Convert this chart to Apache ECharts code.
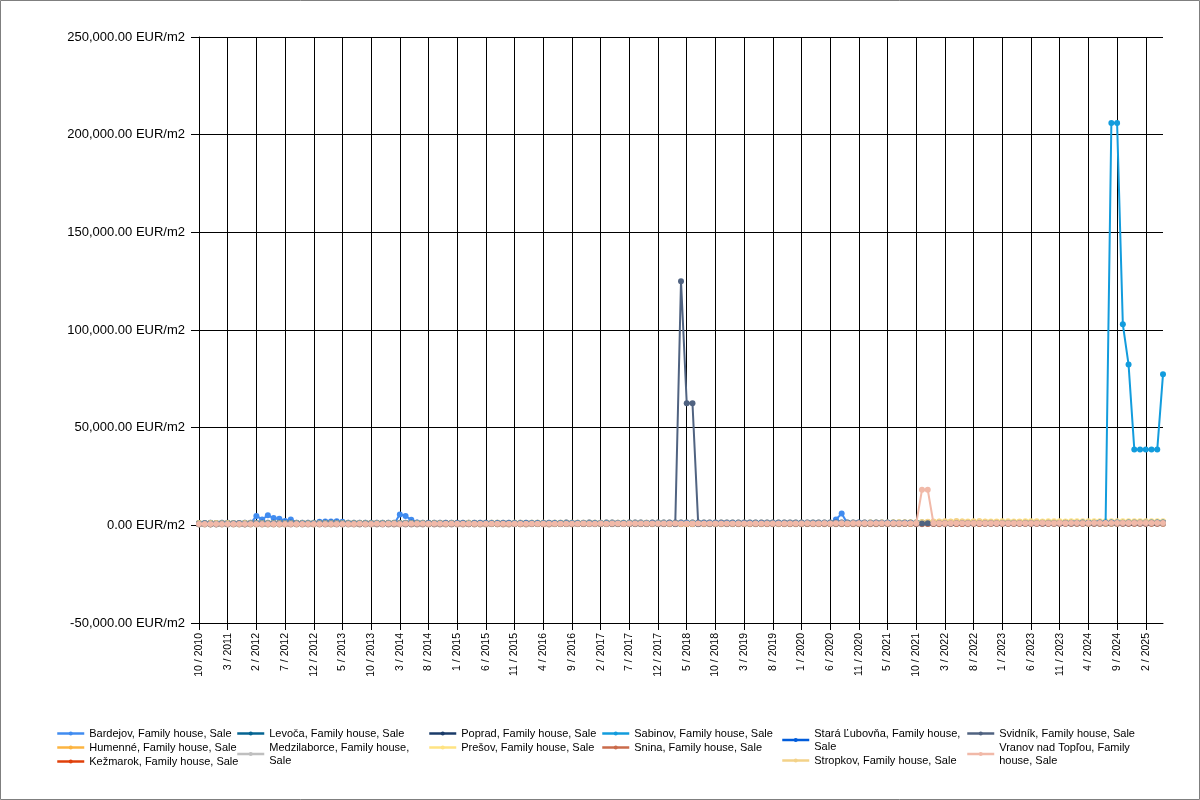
<!DOCTYPE html>
<html>
<head>
<meta charset="utf-8">
<script src="https://cdn.jsdelivr.net/npm/echarts@6/dist/echarts.min.js"></script>
<style>
html,body{margin:0;padding:0;background:#fff;}
#chart{width:1200px;height:800px;}
</style>
</head>
<body>
<div id="chart"></div>
<script>
const categories = [
'10 / 2010','11 / 2010','12 / 2010',
'1 / 2011','2 / 2011','3 / 2011','4 / 2011','6 / 2011','9 / 2011','12 / 2011',
'2 / 2012','3 / 2012','4 / 2012','5 / 2012','6 / 2012','7 / 2012','8 / 2012','9 / 2012','10 / 2012','11 / 2012','12 / 2012',
'1 / 2013','2 / 2013','3 / 2013','4 / 2013','5 / 2013','6 / 2013','7 / 2013','8 / 2013','9 / 2013','10 / 2013','11 / 2013','12 / 2013',
'1 / 2014','2 / 2014','3 / 2014','4 / 2014','5 / 2014','6 / 2014','7 / 2014','8 / 2014','9 / 2014','10 / 2014','11 / 2014','12 / 2014',
'1 / 2015','2 / 2015','3 / 2015','4 / 2015','5 / 2015','6 / 2015','7 / 2015','8 / 2015','9 / 2015','10 / 2015','11 / 2015','12 / 2015',
'1 / 2016','2 / 2016','3 / 2016','4 / 2016','5 / 2016','6 / 2016','7 / 2016','8 / 2016','9 / 2016','10 / 2016','11 / 2016','12 / 2016',
'1 / 2017','2 / 2017','3 / 2017','4 / 2017','5 / 2017','6 / 2017','7 / 2017','8 / 2017','9 / 2017','10 / 2017','11 / 2017','12 / 2017',
'1 / 2018','2 / 2018','3 / 2018','4 / 2018','5 / 2018','6 / 2018','7 / 2018','8 / 2018','9 / 2018','10 / 2018','11 / 2018','12 / 2018',
'1 / 2019','2 / 2019','3 / 2019','4 / 2019','5 / 2019','6 / 2019','7 / 2019','8 / 2019','9 / 2019','10 / 2019','11 / 2019','12 / 2019',
'1 / 2020','2 / 2020','3 / 2020','4 / 2020','5 / 2020','6 / 2020','7 / 2020','8 / 2020','9 / 2020','10 / 2020','11 / 2020','12 / 2020',
'1 / 2021','3 / 2021','4 / 2021','5 / 2021','6 / 2021','7 / 2021','8 / 2021','9 / 2021','10 / 2021','11 / 2021','12 / 2021',
'1 / 2022','2 / 2022','3 / 2022','4 / 2022','5 / 2022','6 / 2022','7 / 2022','8 / 2022','9 / 2022','10 / 2022','11 / 2022','12 / 2022',
'1 / 2023','2 / 2023','3 / 2023','4 / 2023','5 / 2023','6 / 2023','7 / 2023','8 / 2023','9 / 2023','10 / 2023','11 / 2023','12 / 2023',
'1 / 2024','2 / 2024','3 / 2024','4 / 2024','5 / 2024','6 / 2024','7 / 2024','8 / 2024','9 / 2024','10 / 2024','11 / 2024','12 / 2024',
'1 / 2025','2 / 2025','3 / 2025','4 / 2025','5 / 2025'
];

const yTicks = [-50000, 0, 50000, 100000, 150000, 200000, 250000];

const bardejov = [
780,800,760,790,820,800,770,810,790,1000,
4800,3000,5100,3700,3400,2200,3000,1200,900,850,880,
1800,2000,1900,2100,1800,900,820,790,760,800,780,770,
790,810,5500,4800,2800,1500,1000,820,800,780,760,790,
800,780,770,760,790,810,800,780,770,790,800,810,
790,780,800,820,810,790,800,780,770,790,810,820,
800,790,810,820,830,810,800,820,840,830,820,840,
850,830,840,860,850,840,860,870,850,860,880,870,
880,890,870,900,910,890,900,920,910,930,920,940,
950,940,960,950,970,960,3000,6000,1000,980,990,1000,
1010,1020,1000,1030,1040,1050,1030,1060,1070,1080,1090,
1100,1110,1120,1100,1130,1150,1140,1160,1170,1150,1180,1190,
1200,1210,1190,1220,1230,1210,1240,1250,1230,1260,1270,1250,
1280,1290,1270,1300,1310,1290,1320,1330,1310,1340,1350,1330,
1360,1370,1350,1380,1390];

const humenne = [
620,640,610,630,650,640,620,660,640,630,
650,640,660,670,650,640,660,680,670,650,660,
670,680,660,650,670,690,680,660,670,680,690,670,
660,680,690,700,680,670,690,700,710,690,680,700,
710,700,690,710,720,700,690,710,720,730,710,700,
720,730,710,720,740,730,720,740,750,730,740,760,
750,740,760,770,750,760,780,770,760,780,790,770,
780,800,790,780,800,810,790,800,820,810,800,820,
830,810,820,840,830,820,840,850,830,840,860,850,
860,870,850,860,880,870,860,880,890,870,880,900,
910,890,900,920,930,910,920,940,950,930,940,
960,970,950,960,980,990,970,980,1000,1010,990,1000,
1020,1030,1010,1020,1040,1050,1030,1040,1060,1070,1050,1060,
1080,1090,1070,1080,1100,1110,1090,1100,1120,1130,1110,1120,
1140,1150,1130,1140,1160];

const kezmarok = [
920,900,940,910,930,950,920,900,940,930,
950,940,960,930,950,970,960,940,950,970,980,
960,970,990,980,960,970,990,1000,980,990,1010,1000,
990,1010,1020,1000,1010,1030,1020,1000,1010,1030,1040,1020,
1030,1050,1040,1020,1030,1050,1060,1040,1050,1070,1060,1040,
1050,1070,1080,1060,1070,1090,1080,1060,1070,1090,1100,1080,
1090,1110,1100,1080,1090,1110,1120,1100,1110,1130,1120,1100,
1110,1130,1140,1120,1130,1150,1140,1120,1130,1150,1160,1140,
1150,1170,1160,1140,1150,1170,1180,1160,1170,1190,1180,1160,
1170,1190,1200,1180,1190,1210,1200,1180,1190,1210,1220,1200,
1210,1230,1220,1200,1210,1230,1240,1220,1230,1250,1240,
1220,1230,1250,1260,1240,1250,1270,1260,1240,1250,1270,1280,
1260,1270,1290,1280,1260,1270,1290,1300,1280,1290,1310,1300,
1280,1290,1310,1320,1300,1310,1330,1320,1300,1310,1330,1340,
1320,1330,1350,1340,1320];

const levoca = [
720,700,740,710,730,720,700,740,730,710,
730,750,740,720,730,750,760,740,730,750,760,
740,750,770,760,740,750,770,780,760,750,770,780,
760,770,790,780,760,770,790,800,780,770,790,800,
780,790,810,800,780,790,810,820,800,790,810,820,
800,810,830,820,800,810,830,840,820,810,830,840,
820,830,850,840,820,830,850,860,840,830,850,860,
840,850,870,860,840,850,870,880,860,850,870,880,
860,870,890,880,860,870,890,900,880,870,890,900,
880,890,910,900,880,890,910,920,900,890,910,920,
900,910,930,920,900,910,930,940,920,910,930,
950,930,920,940,960,950,930,940,960,980,960,950,
970,990,980,960,970,990,1010,990,980,1000,1020,1010,
990,1010,1030,1020,1000,1020,1040,1030,1010,1030,1050,1040,
1200,1280,1300,1290,1310];

const medzilaborce = [
420,410,430,400,420,440,410,420,430,410,
420,440,430,410,420,440,450,430,420,440,450,
430,440,460,450,430,440,460,470,450,440,460,470,
450,460,480,470,450,460,480,490,470,460,480,490,
470,480,500,490,470,480,500,510,490,480,500,510,
490,500,520,510,490,500,520,530,510,500,520,530,
510,520,540,530,510,520,540,550,530,520,540,550,
530,540,560,550,530,540,560,570,550,540,560,570,
550,560,580,570,550,560,580,590,570,560,580,590,
570,580,600,590,570,580,600,610,590,580,600,610,
590,600,620,610,590,600,620,630,610,600,620,
630,610,600,620,640,630,610,620,640,650,630,620,
640,660,650,630,640,660,670,650,640,660,670,650,
660,680,670,650,660,680,690,670,660,680,690,670,
680,700,690,670,680];

const poprad = [
1250,1230,1270,1240,1260,1280,1250,1230,1270,1260,
1280,1270,1290,1260,1280,1300,1290,1270,1280,1300,1310,
1290,1300,1320,1310,1290,1300,1320,1330,1310,1300,1320,1330,
1310,1320,1340,1330,1310,1320,1340,1350,1330,1320,1340,1350,
1330,1340,1360,1350,1330,1340,1360,1370,1350,1340,1360,1370,
1350,1360,1380,1370,1350,1360,1380,1390,1370,1360,1380,1390,
1370,1380,1400,1390,1370,1380,1400,1410,1390,1380,1400,1410,
1390,1400,1420,1410,1390,1400,1420,1430,1410,1400,1420,1430,
1410,1420,1440,1430,1410,1420,1440,1450,1430,1420,1440,1450,
1430,1440,1460,1450,1430,1440,1460,1470,1450,1440,1460,1470,
1450,1460,1480,1470,1450,1460,1480,1490,1470,1460,1480,
1500,1520,1510,1490,1500,1520,1530,1510,1500,1520,1530,1510,
1520,1540,1550,1530,1520,1540,1550,1530,1540,1560,1570,1550,
1560,1580,1590,1570,1560,1580,1590,1570,1580,1600,1610,1590,
1600,1620,1630,1610,1620];

const presov = [
1150,1130,1170,1140,1160,1180,1150,1130,1170,1160,
1180,1170,1190,1160,1180,1200,1190,1170,1180,1200,1210,
1190,1200,1220,1210,1190,1200,1220,1230,1210,1200,1220,1230,
1210,1220,1240,1230,1210,1220,1240,1250,1230,1220,1240,1250,
1230,1240,1260,1250,1230,1240,1260,1270,1250,1240,1260,1270,
1250,1260,1280,1270,1250,1260,1280,1290,1270,1260,1280,1290,
1270,1280,1300,1290,1270,1280,1300,1310,1290,1280,1300,1310,
1290,1300,1320,1310,1290,1300,1320,1330,1310,1300,1320,1330,
1310,1320,1340,1330,1310,1320,1340,1350,1330,1320,1340,1350,
1330,1340,1360,1350,1330,1340,1360,1370,1350,1340,1360,1370,
1400,1450,1500,1480,1520,1550,1580,1600,1620,1650,1700,
1750,1800,1850,1900,1950,2000,1980,2020,2050,2000,1980,2010,
2030,2050,2020,2000,2040,2060,2030,2010,2050,2070,2040,2020,
2060,2080,2050,2030,2070,2090,2060,2040,2080,2100,2070,2050,
2090,2110,2080,2060,2100];

const sabinov = [
700,720,690,710,730,700,720,740,710,730,
750,720,740,760,730,750,770,740,760,780,750,
770,790,760,780,800,770,790,810,780,800,820,790,
810,830,800,820,840,810,830,850,820,840,860,830,
850,870,840,860,880,850,870,890,860,880,900,870,
890,910,880,900,920,890,910,930,900,920,940,910,
930,950,920,940,960,930,950,970,940,960,980,950,
970,990,960,980,1000,970,990,1010,980,1000,1020,990,
1010,1030,1000,1020,1040,1010,1030,1050,1020,1040,1060,1030,
1050,1070,1040,1060,1080,1050,1070,1090,1060,1080,1100,1070,
1090,1110,1080,1100,1120,1090,1110,1130,1100,1120,1140,
1110,1130,1150,1120,1140,1160,1130,1150,1170,1140,1160,1180,
1150,1170,1190,1160,1180,1200,1170,1190,1210,1180,1200,1220,
1190,1210,1230,1200,1220,1240,1500,206000,206000,102900,82300,38800,
38800,38800,38800,38800,77300];

const snina = [
520,510,530,500,520,540,510,520,530,510,
530,540,520,530,550,540,520,530,550,560,540,
550,570,560,540,550,570,580,560,550,570,580,560,
570,590,580,560,570,590,600,580,570,590,600,580,
590,610,600,580,590,610,620,600,590,610,620,600,
610,630,620,600,610,630,640,620,610,630,640,620,
630,650,640,620,630,650,660,640,630,650,660,640,
650,670,660,640,650,670,680,660,650,670,680,660,
670,690,680,660,670,690,700,680,670,690,700,680,
690,710,700,680,690,710,720,700,690,710,720,700,
710,730,720,700,710,730,740,720,710,730,740,
720,730,750,760,740,730,750,760,740,750,770,780,
760,750,770,780,760,770,790,800,780,770,790,800,
780,790,810,820,800,790,810,820,800,810,830,840,
820,810,830,840,820];

const staraLubovna = [
860,880,850,870,890,860,880,900,870,890,
910,880,900,920,890,910,930,900,920,940,910,
930,950,920,940,960,930,950,970,940,960,980,950,
970,990,960,980,1000,970,990,1010,980,1000,1020,990,
1010,1030,1000,1020,1040,1010,1030,1050,1020,1040,1060,1030,
1050,1070,1040,1060,1080,1050,1070,1090,1060,1080,1100,1070,
1090,1110,1080,1100,1120,1090,1110,1130,1100,1120,1140,1110,
1130,1150,1120,1140,1160,1130,1150,1170,1140,1160,1180,1150,
1170,1190,1160,1180,1200,1170,1190,1210,1180,1200,1220,1190,
1210,1230,1200,1220,1240,1210,1230,1250,1220,1240,1260,1230,
1250,1270,1240,1260,1280,1250,1270,1290,1260,1280,1300,
1270,1290,1310,1280,1300,1320,1290,1310,1330,1300,1320,1340,
1310,1330,1350,1320,1340,1360,1330,1350,1370,1340,1360,1380,
1350,1370,1390,1360,1380,1400,1370,1390,1410,1380,1400,1420,
1390,1410,1430,1400,1420];

const stropkov = [
550,570,540,560,580,550,570,590,560,580,
600,570,590,610,580,600,620,590,610,630,600,
620,640,610,630,650,620,640,660,630,650,670,640,
660,680,650,670,690,660,680,700,670,690,710,680,
700,720,690,710,730,700,720,740,710,730,750,720,
740,760,730,750,770,740,760,780,750,770,790,760,
780,800,770,790,810,780,800,820,790,810,830,800,
820,840,810,830,850,820,840,860,830,850,870,840,
860,880,850,870,890,860,880,900,870,890,910,880,
900,920,890,910,930,900,920,940,910,930,950,920,
940,960,930,950,970,940,960,980,1200,1500,1800,
2000,1900,2100,1800,2200,2000,1700,1900,2100,1800,1600,1700,
1500,1600,1400,1700,1500,1600,1800,1500,1400,1600,1500,1300,
1200,1100,1300,1000,1200,1100,1000,900,1100,1200,1300,1400,
1500,1400,1300,1200,1100];

const svidnik = [
600,620,590,610,630,600,620,640,610,630,
650,620,640,660,630,650,670,640,660,680,650,
670,690,660,680,700,670,690,710,680,700,720,690,
710,730,700,720,740,710,730,750,720,740,760,730,
750,770,740,760,780,750,770,790,760,780,800,770,
790,810,780,800,820,790,810,830,800,820,840,810,
830,850,820,840,860,830,850,870,840,860,880,850,
870,890,700,125000,62500,62500,700,880,860,880,900,870,
890,910,880,900,920,890,910,930,900,920,940,910,
930,950,920,940,960,930,950,970,940,960,980,950,
970,990,960,980,1000,970,990,1010,980,1000,1020,
990,1010,1030,1000,1020,1040,1010,1030,1050,1020,1040,1060,
1030,1050,1070,1040,1060,1080,1050,1070,1090,1060,1080,1100,
1070,1090,1110,1080,1100,1120,1090,1110,1130,1100,1120,1140,
1110,1130,1150,1120,1140];

const vranov = [
640,660,630,650,670,640,660,680,650,670,
690,660,680,700,670,690,710,680,700,720,690,
710,730,700,720,740,710,730,750,720,740,760,730,
750,770,740,760,780,750,770,790,760,780,800,770,
790,810,780,800,820,790,810,830,800,820,840,810,
830,850,820,840,860,830,850,870,840,860,880,850,
870,890,860,880,900,870,890,910,880,900,920,890,
910,930,900,920,940,910,930,950,920,940,960,930,
950,970,940,960,980,950,970,990,960,980,1000,970,
990,1010,980,1000,1020,990,1010,1030,1000,1020,1040,1010,
1030,1050,1020,1040,1060,1030,1050,1070,1040,18200,18200,
1060,1080,1050,1070,1090,1060,1080,1100,1070,1090,1110,1080,
1100,1120,1090,1110,1130,1100,1120,1140,1110,1130,1150,1120,
1140,1160,1130,1150,1170,1140,1160,1180,1150,1170,1190,1160,
1180,1200,1170,1190,1210];

const seriesNames = [
'Bardejov, Family house, Sale','Humenné, Family house, Sale','Kežmarok, Family house, Sale',
'Levoča, Family house, Sale','Medzilaborce, Family house, Sale','Poprad, Family house, Sale',
'Prešov, Family house, Sale','Sabinov, Family house, Sale','Snina, Family house, Sale',
'Stará Ľubovňa, Family house, Sale','Stropkov, Family house, Sale','Svidník, Family house, Sale',
'Vranov nad Topľou, Family house, Sale'];
const seriesData = [bardejov, humenne, kezmarok, levoca, medzilaborce, poprad, presov, sabinov, snina, staraLubovna, stropkov, svidnik, vranov];
const colors = ['#418CF0','#FCB441','#E0400A','#056492','#BFBFBF','#1A3B69','#FFE382','#129CDD','#CA6B4B','#005CDB','#F3D288','#506381','#F1B9A8'];

const legendLabels = {
  'Medzilaborce, Family house, Sale': 'Medzilaborce, Family house,\nSale',
  'Stará Ľubovňa, Family house, Sale': 'Stará Ľubovňa, Family house,\nSale',
  'Vranov nad Topľou, Family house, Sale': 'Vranov nad Topľou, Family\nhouse, Sale'
};

function fmt(v) {
  const neg = v < 0;
  const s = Math.abs(v).toFixed(2);
  const parts = s.split('.');
  parts[0] = parts[0].replace(/\B(?=(\d{3})+(?!\d))/g, ',');
  return (neg ? '-' : '') + parts.join('.') + ' EUR/m2';
}

const FONT = 'Liberation Sans, Arial, sans-serif';
const legendCols = [
  {left: 56, items: [0, 1, 2]},
  {left: 236, items: [3, 4]},
  {left: 428, items: [5, 6]},
  {left: 601, items: [7, 8]},
  {left: 781, items: [9, 10]},
  {left: 966, items: [11, 12]}
];

const chart = echarts.init(document.getElementById('chart'), null, {renderer: 'canvas'});
chart.setOption({
  animation: false,
  backgroundColor: '#ffffff',
  color: colors,
  textStyle: {fontFamily: FONT},
  graphic: [{
    type: 'rect', silent: true, z: 100,
    shape: {x: 0.5, y: 0.5, width: 1199, height: 799},
    style: {fill: 'none', stroke: '#7f7f7f', lineWidth: 1}
  }],
  grid: {left: 199, right: 37, top: 37, bottom: 177, containLabel: false},
  legend: legendCols.map(c => ({
    orient: 'vertical',
    left: c.left,
    top: 727,
    padding: 0,
    itemGap: 1,
    itemWidth: 27,
    itemHeight: 5,
    selectedMode: false,
    lineStyle: {width: 2.5},
    data: c.items.map(i => seriesNames[i]),
    formatter: n => legendLabels[n] || n,
    textStyle: {fontFamily: FONT, fontSize: 11, color: '#000', lineHeight: 13}
  })),
  xAxis: {
    type: 'category',
    data: categories,
    boundaryGap: false,
    axisLine: {onZero: false, lineStyle: {color: '#000', width: 1}},
    axisTick: {show: true, interval: 4, length: 7, lineStyle: {color: '#000'}},
    axisLabel: {interval: 4, rotate: 90, fontSize: 10.5, color: '#000', margin: 10, fontFamily: FONT},
    splitLine: {show: true, interval: 4, lineStyle: {color: '#000', width: 1}}
  },
  yAxis: {
    type: 'value',
    min: yTicks[0],
    max: yTicks[yTicks.length - 1],
    interval: 50000,
    axisLine: {show: true, lineStyle: {color: '#000', width: 1}},
    axisTick: {show: true, length: 8, lineStyle: {color: '#000'}},
    axisLabel: {formatter: fmt, fontSize: 13, color: '#000', margin: 14, fontFamily: FONT},
    splitLine: {show: true, lineStyle: {color: '#000', width: 1}}
  },
  series: seriesNames.map((n, i) => ({
    name: n,
    type: 'line',
    data: seriesData[i],
    symbol: 'circle',
    symbolSize: 6,
    showSymbol: true,
    showAllSymbol: true,
    lineStyle: {width: 2, color: colors[i]},
    itemStyle: {color: colors[i]},
    z: 2 + i
  }))
});
</script>
</body>
</html>
